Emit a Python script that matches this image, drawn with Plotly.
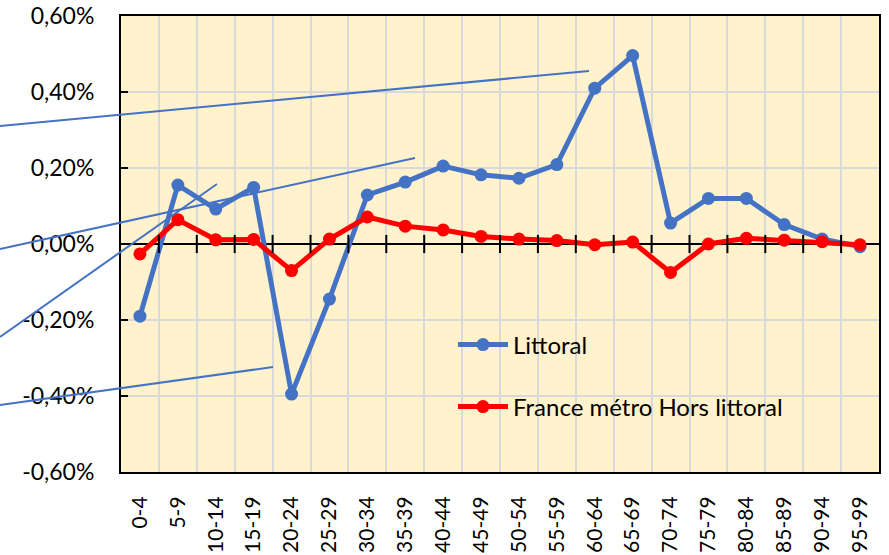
import plotly.graph_objects as go

categories = ["0-4", "5-9", "10-14", "15-19", "20-24", "25-29", "30-34", "35-39",
              "40-44", "45-49", "50-54", "55-59", "60-64", "65-69", "70-74", "75-79",
              "80-84", "85-89", "90-94", "95-99"]
littoral_pct = [-0.19, 0.155, 0.092, 0.149, -0.395, -0.145, 0.129, 0.163,
                0.205, 0.182, 0.173, 0.209, 0.41, 0.496, 0.055, 0.12,
                0.12, 0.051, 0.013, -0.007]
hors_littoral_pct = [-0.026, 0.064, 0.011, 0.012, -0.07, 0.013, 0.071, 0.047,
                     0.037, 0.02, 0.013, 0.009, -0.002, 0.005, -0.075, 0.0,
                     0.015, 0.01, 0.006, -0.002]
y_tick_vals_pct = [-0.6, -0.4, -0.2, 0.0, 0.2, 0.4, 0.6]
y_tick_labels = ["-0,60%", "-0,40%", "-0,20%", "0,00%", "0,20%", "0,40%", "0,60%"]

littoral = [v / 100 for v in littoral_pct]
hors = [v / 100 for v in hors_littoral_pct]
yticks = [v / 100 for v in y_tick_vals_pct]

W, H = 889, 555
L, R, T, B = 121, 10, 16, 83
PW, PH = W - L - R, H - T - B

FONT = "Lato, Calibri, Carlito, sans-serif"
BLUE = "#4472C4"
RED = "#FF0000"

n = len(categories)
ymin, ymax = yticks[0], yticks[-1]

fig = go.Figure()
fig.add_trace(go.Scatter(x=categories, y=littoral, mode="lines+markers", name="Littoral",
                         line=dict(color=BLUE, width=5), marker=dict(size=13, color=BLUE),
                         legend="legend"))
fig.add_trace(go.Scatter(x=categories, y=hors, mode="lines+markers",
                         name="France métro Hors littoral",
                         line=dict(color=RED, width=5), marker=dict(size=13, color=RED),
                         legend="legend2"))

# cross tick marks on the zero line at category boundaries
boundary_x = [k - 0.5 for k in range(1, n)]
fig.add_trace(go.Scatter(x=boundary_x, y=[0] * len(boundary_x), mode="markers",
                         xaxis="x2", showlegend=False, hoverinfo="skip",
                         marker=dict(symbol="line-ns", size=13,
                                     line=dict(color="black", width=2))))

# stray leader lines present in the original picture (pixel endpoints)
leader_lines = [((0, 126), (589, 71)), ((0, 249), (415, 158)),
                ((0, 337), (217, 184)), ((0, 405), (273, 367))]
for (x0, y0), (x1, y1) in leader_lines:
    fig.add_shape(type="line", xref="paper", yref="paper", layer="above",
                  x0=(x0 - L) / PW, y0=(H - B - y0) / PH,
                  x1=(x1 - L) / PW, y1=(H - B - y1) / PH,
                  line=dict(color=BLUE, width=2))

fig.update_layout(
    width=W, height=H,
    margin=dict(l=L, r=R, t=T, b=B, autoexpand=False),
    paper_bgcolor="white",
    plot_bgcolor="#FFF2CC",
    font=dict(family=FONT, size=23, color="black"),
    xaxis=dict(type="category", range=[-0.5, n - 0.5], tickangle=-90,
               tickson="boundaries", ticks="",
               showgrid=True, gridcolor="#D9D9D9", gridwidth=2,
               showline=True, linecolor="black", linewidth=2, mirror=True,
               ticklabelstandoff=14, tickfont=dict(size=21), automargin=False),
    xaxis2=dict(overlaying="x", range=[-0.5, n - 0.5], visible=False),
    yaxis=dict(range=[ymin, ymax], tickvals=yticks, ticktext=y_tick_labels,
               ticks="inside", ticklen=7, tickwidth=2, tickcolor="black",
               showgrid=True, gridcolor="#D9D9D9", gridwidth=2,
               zeroline=True, zerolinecolor="black", zerolinewidth=2,
               showline=True, linecolor="black", linewidth=2, mirror=True,
               ticklabelstandoff=20, tickfont=dict(size=23), automargin=False),
    legend=dict(x=(453 - L) / PW, y=(H - B - 345) / PH, xanchor="left", yanchor="middle",
                bgcolor="rgba(0,0,0,0)", itemwidth=50, font=dict(size=24)),
    legend2=dict(x=(453 - L) / PW, y=(H - B - 407) / PH, xanchor="left", yanchor="middle",
                 bgcolor="rgba(0,0,0,0)", itemwidth=50, font=dict(size=24)),
    showlegend=True,
)

fig.write_html("out.html", config={"displayModeBar": False},
               post_script="document.body.style.margin='0';document.body.style.overflow='hidden';")
